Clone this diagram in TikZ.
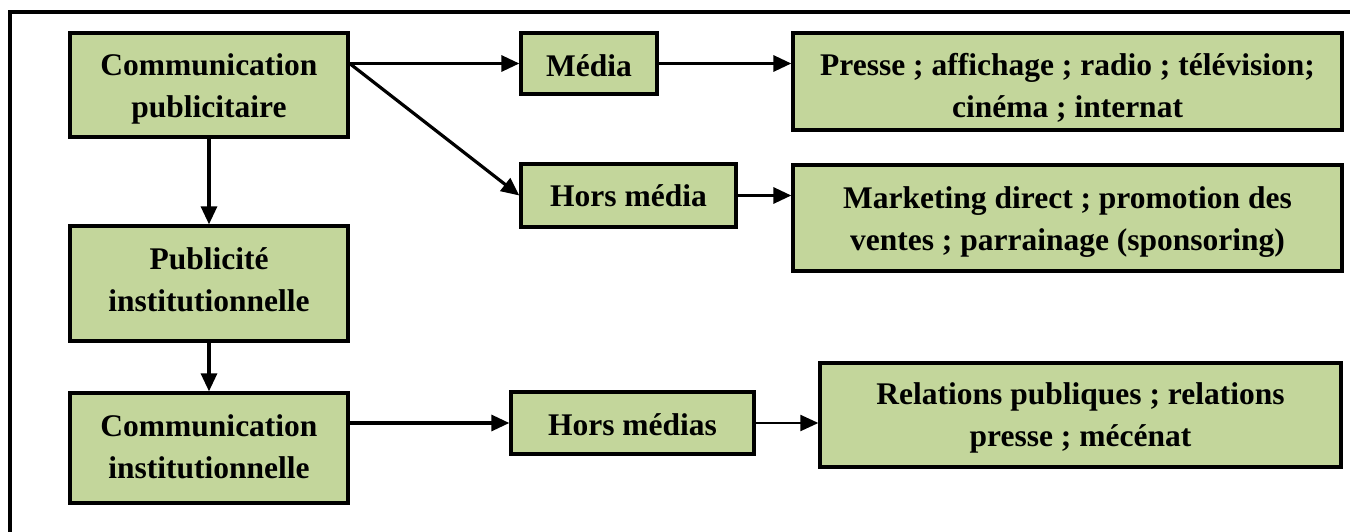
\documentclass[tikz,border=0pt]{standalone}
\usepackage{fontspec}
\setmainfont{Liberation Serif}
\usetikzlibrary{arrows.meta}
\definecolor{boxgreen}{HTML}{C3D69B}
\tikzset{
  x=1pt, y=-1pt,
  box/.style={draw=black, line width=3.3pt, fill=boxgreen, inner sep=0pt,
    align=center, font=\fontsize{31.5}{42}\selectfont\bfseries},
  % width, distance from top edge to last baseline, rest of the height
  dims/.style n args={3}{minimum width=#1pt, text height=#2pt, text depth=#3pt},
  link/.style={line width=3.2pt, -{Triangle[length=18pt,width=16pt]}},
  thinlink/.style={line width=2.2pt, -{Triangle[length=18pt,width=16pt]}},
}
\begin{document}
\begin{tikzpicture}
\useasboundingbox (0,0) rectangle (1350,532);
\clip (0,0) rectangle (1350,532);
% outer frame (only its top and left sides fall inside the page)
\draw[line width=3.3pt] (10,560) -- (10,12) -- (1380,12);

% left column
\node[box, dims={278}{85}{19}] (cp) at (209,85)
  {Communication\\publicitaire};
\node[box, dims={278}{85}{30}] (pi) at (209,283.5)
  {Publicité\\institutionnelle};
\node[box, dims={278}{85}{25}] (ci) at (209,448)
  {Communication\\institutionnelle};

% middle column
\node[box, dims={136}{44}{17}] (media) at (589,63.5) {Média};
\node[box, dims={215}{43}{20}] (hm) at (628.5,195.5) {Hors média};
\node[box, dims={243}{43}{19}] (hms) at (632.5,423) {Hors médias};

% right column
\node[box, dims={549}{85}{12}] (presse) at (1067.5,81.5)
  {Presse ; affichage ; radio ; télévision;\\cinéma ; internat};
\node[box, dims={549}{85}{21}] (mkt) at (1067.5,218)
  {Marketing direct ; promotion des\\ventes ; parrainage (sponsoring)};
\node[box, dims={521}{83}{21}] (rel) at (1080.5,415)
  {Relations publiques ; relations\\presse ; mécénat};

% connectors
\coordinate (cpout) at (cp.east |- media.west);
\coordinate (ciout) at (ci.east |- hms.west);
\draw[link] (cpout) -- (media.west);
\draw[link] (cpout) -- (hm.west);
\draw[link] (media.east) -- (media.east -| presse.west);
\draw[link] (hm.east) -- (hm.east -| mkt.west);
\draw[link] (cp.south) -- (pi.north);
\draw[link] (pi.south) -- (ci.north);
\draw[link] (ciout) -- (hms.west);
\draw[thinlink] (hms.east) -- (hms.east -| rel.west);
\end{tikzpicture}
\end{document}
